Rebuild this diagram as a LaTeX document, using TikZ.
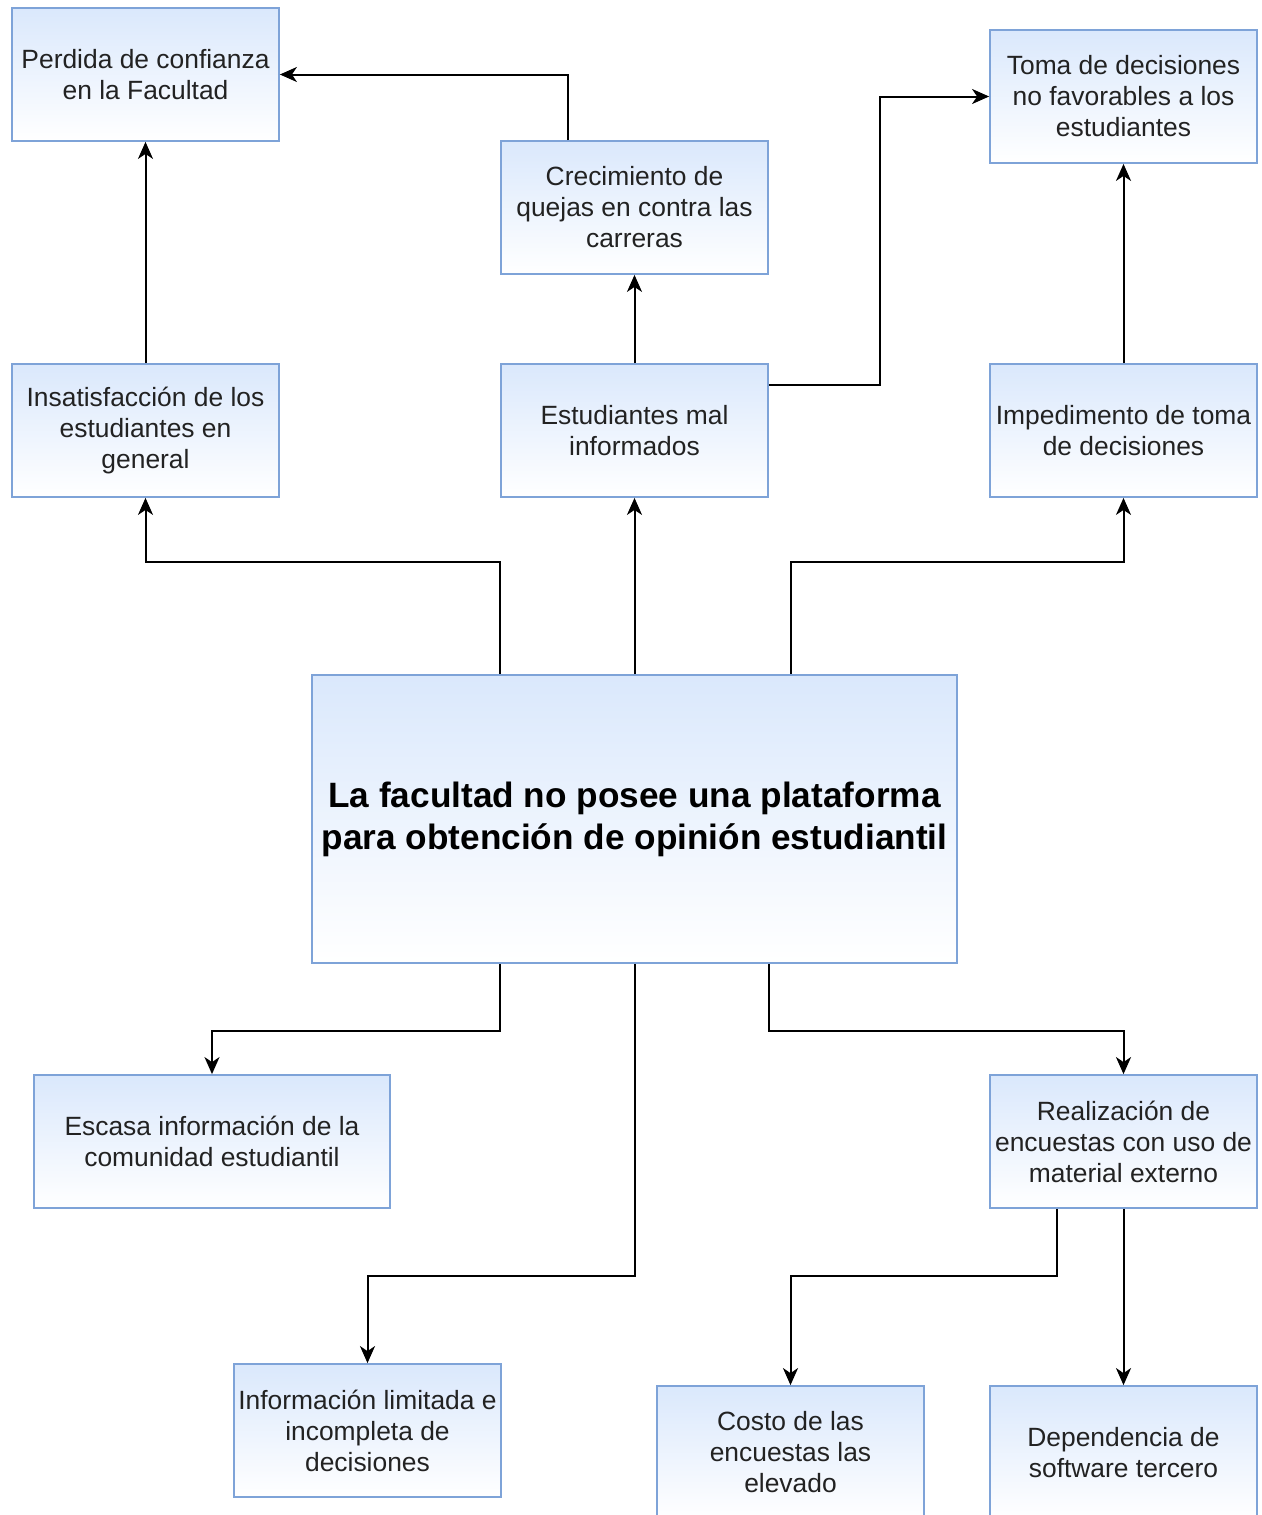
\documentclass[tikz,border=0pt]{standalone}
\usepackage{fontspec}
\setmainfont{Liberation Sans}
\usepackage{xcolor}
\usepackage{tikz}
\usetikzlibrary{calc, arrows.meta, positioning}
\definecolor{boxfill}{HTML}{DAE8FC}
\definecolor{boxline}{HTML}{7EA3D8}
\definecolor{boxtext}{HTML}{222222}
\tikzset{
    boxnode/.style = {draw=boxline, line width=0.9pt, rectangle, top color=boxfill, bottom color=white,
      minimum width=133.5pt, minimum height=66.5pt, inner sep=0pt, text=boxtext,
      font=\fontsize{13.2pt}{15.5pt}\selectfont},
    mainnode/.style = {boxnode, minimum width=322.5pt, minimum height=144pt, text=black,
      font=\fontsize{17.6pt}{21pt}\selectfont\bfseries},
    connect/.style = {black, line width=1pt, -{Stealth[length=8.5pt, width=7.5pt, inset=2.5pt]}},
    every text node part/.style={align=center}
}
\begin{document}
\begin{tikzpicture}[x=0.5pt, y=-0.5pt]
    \useasboundingbox (0,0) rectangle (1262,1515);
    \clip (0,0) rectangle (1262,1515);

    % problema central
    \node [name=central, mainnode] at (634.5,819) {La facultad no posee una plataforma\\para obtención de opinión estudiantil};

    % efectos
    \node [name=insat, boxnode] at (145.5,430.5) {Insatisfacción de los\\estudiantes en\\general};
    \node [name=estud, boxnode] at (634.5,430.5) {Estudiantes mal\\informados};
    \node [name=imped, boxnode] at (1123.5,430.5) {Impedimento de toma\\de decisiones};
    \node [name=perdida, boxnode] at (145.5,74.5) {Perdida de confianza\\en la Facultad};
    \node [name=crec, boxnode] at (634.5,207.5) {Crecimiento de\\quejas en contra las\\carreras};
    \node [name=toma, boxnode] at (1123.5,96.5) {Toma de decisiones\\no favorables a los\\estudiantes};

    % causas
    \node [name=escasa, boxnode, minimum width=178pt] at (212,1141.5) {Escasa información de la\\comunidad estudiantil};
    \node [name=realiz, boxnode] at (1123.5,1141.5) {Realización de\\encuestas con uso de\\material externo};
    \node [name=infolim, boxnode] at (367.5,1430.5) {Información limitada e\\incompleta de\\decisiones};
    \node [name=costo, boxnode] at (790.5,1452.5) {Costo de las\\encuestas las\\elevado};
    \node [name=depend, boxnode] at (1123.5,1452.5) {Dependencia de\\software tercero};

    \draw [connect] (central.north -| estud.west) -- ++(0,-112) -| (insat.south);
    \draw [connect] (central.north) -- (estud.south);
    \draw [connect] (central.north -| costo) -- ++(0,-112) -| (imped.south);
    \draw [connect] (insat.north) -- (perdida.south);
    \draw [connect] (estud.north) -- (crec.south);
    \draw [connect] ([xshift=-33.25pt]crec.north) |- (perdida.east);
    \draw [connect] ([yshift=22.75pt]estud.east) -- ++(111,0) |- (toma.west);
    \draw [connect] (imped.north) -- (toma.south);

    \draw [connect] (central.south -| estud.west) -- ++(0,67) -| (escasa.north);
    \draw [connect] (central.south) -- ++(0,312) -| (infolim.north);
    \draw [connect] (central.south -| estud.east) -- ++(0,67) -| (realiz.north);
    \draw [connect] ([xshift=-33.25pt]realiz.south) -- ++(0,67) -| (costo.north);
    \draw [connect] (realiz.south) -- (depend.north);
\end{tikzpicture}
\end{document}
